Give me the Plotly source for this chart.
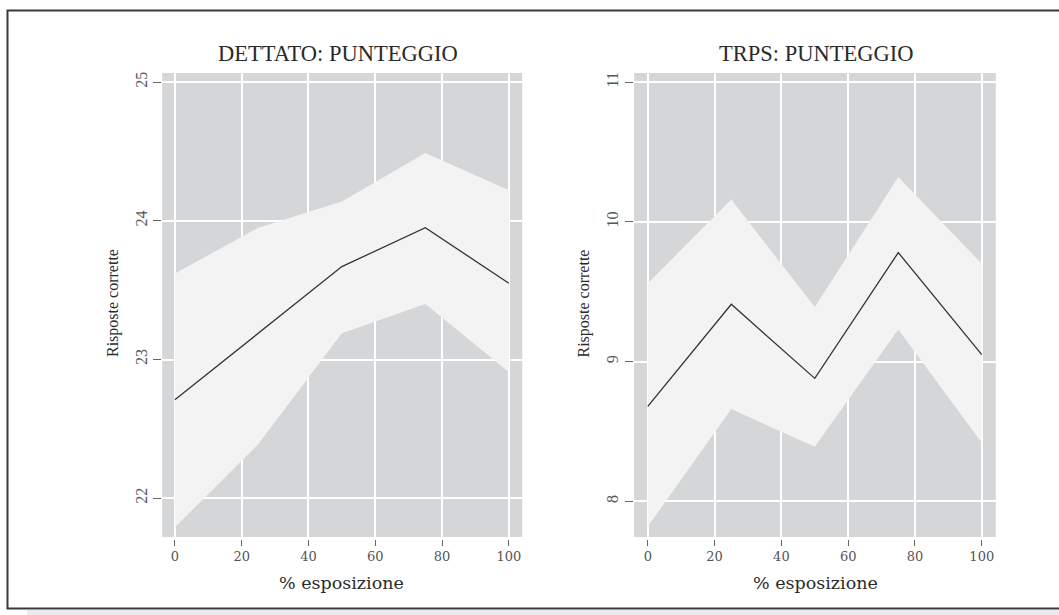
import plotly.graph_objects as go

# Exposure levels (% esposizione)
exposure = [0, 25, 50, 75, 100]

# DETTATO: predicted score with 95% band
dettato_mean = [22.71, 23.19, 23.67, 23.95, 23.55]
dettato_lo = [21.79, 22.39, 23.19, 23.40, 22.91]
dettato_hi = [23.62, 23.95, 24.14, 24.49, 24.22]

# TRPS: predicted score with 95% band
trps_mean = [8.68, 9.41, 8.88, 9.78, 9.05]
trps_lo = [7.82, 8.66, 8.39, 9.23, 8.42]
trps_hi = [9.56, 10.16, 9.39, 10.32, 9.70]

x_ticks = [0, 20, 40, 60, 80, 100]
dettato_ticks = [22, 23, 24, 25]
trps_ticks = [8, 9, 10, 11]

panel_titles = ["DETTATO: PUNTEGGIO", "TRPS: PUNTEGGIO"]
y_title = "Risposte corrette"
x_title = "% esposizione"

W, H = 1059, 615
BAND = "#f3f3f3"
PANEL = "#d5d6d8"
LINE = "#333333"


def px(x):
    return x / W


def py(y):
    return 1 - y / H


fig = go.Figure()

panels = [
    dict(xa="x", ya="y", lo=dettato_lo, hi=dettato_hi, mean=dettato_mean),
    dict(xa="x2", ya="y2", lo=trps_lo, hi=trps_hi, mean=trps_mean),
]
for p in panels:
    fig.add_trace(go.Scatter(x=exposure, y=p["lo"], mode="lines", line=dict(width=0),
                             xaxis=p["xa"], yaxis=p["ya"], showlegend=False, hoverinfo="skip"))
    fig.add_trace(go.Scatter(x=exposure, y=p["hi"], mode="lines", line=dict(width=0),
                             fill="tonexty", fillcolor=BAND,
                             xaxis=p["xa"], yaxis=p["ya"], showlegend=False, hoverinfo="skip"))
    fig.add_trace(go.Scatter(x=exposure, y=p["mean"], mode="lines",
                             line=dict(color=LINE, width=1.3),
                             xaxis=p["xa"], yaxis=p["ya"], showlegend=False))

xtick_font = dict(family="DejaVu Serif", size=13, color="#555555")
ytick_font = dict(family="Liberation Serif", size=16, color="#555555")

common_x = dict(tickvals=x_ticks, showgrid=True, gridcolor="white",
                gridwidth=1.5, zeroline=False, showline=False, ticks="outside", ticklen=6,
                tickwidth=1, tickcolor="#666666", tickfont=xtick_font, anchor="free",
                position=py(538.5))
common_y = dict(showgrid=True, gridcolor="white", gridwidth=1.5, zeroline=False,
                showline=False, ticks="outside", ticklen=8, tickwidth=1, tickcolor="#666666",
                tickfont=ytick_font, tickangle=-90, anchor="free")

y_dom = [py(537), py(73)]
left_dom = [px(162.2), px(522.2)]
right_dom = [px(634.1), px(995.8)]

fig.update_layout(
    width=W, height=H,
    margin=dict(l=0, r=0, t=0, b=0),
    paper_bgcolor="white",
    plot_bgcolor=PANEL,
    xaxis=dict(domain=left_dom, range=[-3.8, 104], **common_x),
    yaxis=dict(domain=y_dom, range=[21.72, 25.066], tickvals=dettato_ticks,
               position=px(161), **common_y),
    xaxis2=dict(domain=right_dom, range=[-4.1, 104.2], **common_x),
    yaxis2=dict(domain=y_dom, range=[7.745, 11.065], tickvals=trps_ticks,
                position=px(632.7), **common_y),
)

title_font = dict(family="Liberation Serif", size=22.5, color="#2a2a2a")
ytitle_font = dict(family="Liberation Serif", size=16, color="#2a2a2a")
xtitle_font = dict(family="DejaVu Serif", size=17.5, color="#2a2a2a")

ann = []
for title, tcx, xcx, ycx in [(panel_titles[0], 338.3, 341.7, 113.5),
                             (panel_titles[1], 815.6, 815.0, 584)]:
    ann.append(dict(text=title, x=px(tcx), y=py(54), xref="paper", yref="paper",
                    xanchor="center", yanchor="middle", showarrow=False, font=title_font))
    ann.append(dict(text=x_title, x=px(xcx), y=py(582.5), xref="paper", yref="paper",
                    xanchor="center", yanchor="middle", showarrow=False, font=xtitle_font))
    ann.append(dict(text=y_title, x=px(ycx), y=py(303.5), xref="paper", yref="paper",
                    xanchor="center", yanchor="middle", showarrow=False, textangle=-90,
                    font=ytitle_font))
fig.update_layout(annotations=ann)

# Frame around the figure and the shaded strip under it
fig.add_shape(type="rect", xref="paper", yref="paper", x0=px(27), x1=1.02, y0=-0.02,
              y1=py(610), fillcolor="#ebebed", line=dict(width=0), layer="below")
fig.add_shape(type="rect", xref="paper", yref="paper", x0=px(7.5), x1=1.02, y0=py(608.5),
              y1=py(10.5), fillcolor="rgba(0,0,0,0)", line=dict(color="#3a3a3a", width=2),
              layer="above")

fig.write_html("out.html")
